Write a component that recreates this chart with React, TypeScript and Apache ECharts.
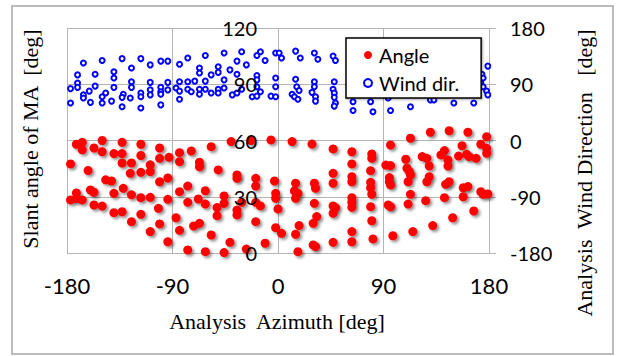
import React, { useEffect, useRef } from 'react';
import * as echarts from 'echarts';

// Analysis azimuth [deg] vs slant angle of MA [deg] (left axis)
const angleData: [number, number][] = [
  [-172, 58], [-167, 59], [-167, 55], [-157, 56], [-150, 60], [-150, 54], [-140, 53], [-133, 59], [-133, 53],
  [-117, 58], [-117, 52], [-101, 56], [-101, 50.5], [-93, 51], [-177, 47.5], [-162, 44], [-133, 48], [-125, 48],
  [-126, 42.5], [-117, 43], [-109, 47], [-109, 43.4], [-101, 38], [-94, 40], [-147, 39], [-142, 38.4], [-132, 34.5],
  [-160, 33.6], [-157, 32.4], [-140, 31.8], [-125, 31], [-117, 29.5], [-109, 29.7], [-172, 32], [-177, 28.3],
  [-172, 29], [-167, 28.3], [-157, 25.6], [-150, 25], [-140, 21.5], [-133, 22], [-117, 20.6], [-125, 16.7],
  [-102, 23.8], [-101, 15.5], [-94, 28.6], [-109, 11.4], [-94, 6],
  [-84, 53.5], [-84, 48.7], [-74, 54.4], [-67, 48.4], [-67, 46], [-57, 56.7], [-51, 44.3], [-40, 59.4], [-23, 60],
  [-6, 60.3], [-35, 41.6], [-35, 39.8], [-19, 39.8], [-19, 35.7], [-3, 38.4], [-77, 35.7], [-84, 32.7], [-62, 33.2],
  [-77, 27], [-68, 28.8], [-62, 26.1], [-46, 30.4], [-46, 26.5], [-52, 24.2], [-52, 19.9], [-35, 22.9], [-35, 20.3],
  [-31, 27], [-19, 27], [-15, 25.1], [-2, 31.8], [-2, 29.2], [-87, 18.8], [-84, 12.1], [-72, 14.4], [-67, 15.8],
  [-57, 9.6], [-41, 5.7], [-19, 16.7], [-11, 5.2], [-2, 13.5], [-77, 1.6], [-62, 0.7], [-46, 0.2], [-27, 2.1],
  [12, 59.4], [29, 58.1], [47, 55.5], [63, 54], [63, 47.5], [80, 52.8], [80, 50.5], [79, 43.9], [92, 46.9],
  [47, 42.5], [47, 37.2], [63, 40.7], [63, 38], [79, 37.7], [79, 34.8], [80, 31.3], [15, 37.2], [14, 33.1],
  [17, 31.8], [15, 29.2], [31, 37.2], [32, 34.5], [0, 23.5], [31, 26.5], [47, 25.1], [49, 24.2], [47, 21.2],
  [63, 29.5], [63, 27], [63, 24.4], [79, 24.7], [80, 17.2], [94, 25.6], [33, 19.4], [30, 15.8], [18, 14.6],
  [15, 10], [3, 10.5], [63, 11.4], [63, 6], [81, 7.5], [47, 5.7], [30, 4.3], [32, 3.4], [17, 0.7],
  [96, 57.6], [113, 61.2], [130, 64.4], [146, 65.2], [162, 64.4], [178, 62], [173, 58], [178, 55.8], [178, 53.2],
  [157, 57.2], [142, 54.6], [139, 52.3], [145, 49.6], [145, 46.4], [154, 51.7], [161, 52.6], [163, 51.4],
  [169, 50.5], [123, 51.4], [127, 50.5], [129, 46.4], [109, 50], [96, 46.6], [110, 45.2], [112, 43.4], [113, 41.6],
  [111, 38], [95, 40.2], [95, 38], [96, 36.3], [129, 40.7], [127, 38], [143, 36.6], [146, 38], [158, 34.8],
  [162, 35.4], [173, 32.7], [175, 31.3], [179, 31.5], [113, 31.3], [96, 24.7], [111, 26.1], [126, 27.9],
  [142, 29.5], [158, 30], [167, 22.4], [149, 18.8], [132, 14.6], [115, 11.4], [98, 9.2],
];

// Analysis azimuth [deg] vs analysis wind direction [deg] (right axis)
const windData: [number, number][] = [
  [-166, 124], [-150, 128], [-133, 131], [-117, 131], [-109, 121], [-100, 127], [-94, 127], [-171, 105],
  [-156, 106], [-140, 110], [-140, 100], [-125, 116], [-171, 92], [-177, 83], [-171, 85], [-156, 87], [-140, 85],
  [-125, 94], [-125, 85], [-109, 93], [-100, 85], [-94, 93], [-161, 79], [-166, 73], [-166, 68], [-147, 76],
  [-150, 70], [-132, 74], [-133, 69], [-117, 76], [-117, 70], [-109, 81], [-109, 73], [-100, 78], [-100, 74],
  [-94, 81], [-177, 60], [-160, 61], [-150, 60], [-142, 63], [-126, 68], [-133, 54], [-117, 52], [-100, 57],
  [-84, 122], [-77, 132], [-62, 136], [-46, 140], [-31, 142], [-18, 136], [-15, 142], [-11, 128], [-2, 140],
  [1, 140], [-35, 127], [-27, 121], [-67, 116], [-67, 108], [-51, 118], [-51, 109], [-57, 105], [-41, 113],
  [-35, 106], [-18, 104], [-18, 97], [-2, 100], [-84, 94], [-77, 94], [-71, 95], [-62, 95], [-46, 97], [-87, 84],
  [-84, 79], [-77, 82], [-74, 78], [-67, 82], [-67, 74], [-62, 82], [-57, 76], [-51, 82], [-51, 76], [-46, 84],
  [-39, 73], [-35, 76], [-31, 82], [-22, 70], [-18, 71], [-15, 78], [-18, 86], [-6, 71], [-2, 70], [-2, 86],
  [-84, 66],
  [3, 132], [15, 143], [19, 132], [31, 140], [34, 130], [47, 135], [49, 128], [15, 98], [16, 86], [18, 80],
  [12, 74], [14, 70], [17, 66], [31, 94], [31, 86], [29, 77], [32, 70], [32, 63], [48, 94], [47, 82], [48, 76],
  [48, 69], [49, 60], [48, 55], [64, 62], [64, 48], [79, 62], [81, 46],
  [94, 68], [96, 48], [113, 54], [130, 65], [133, 65], [150, 60], [167, 60], [179, 119], [174, 106], [175, 100],
  [173, 92], [175, 86], [178, 79], [179, 73],
];

const seriesNames = ['Angle', 'Wind dir.'];
const axisTitles = {
  x: 'Analysis  Azimuth [deg]',
  left: 'Slant angle of MA  [deg]',
  right: 'Analysis  Wind Direction   [deg]',
};

const GRID = '#b4b4b4';
const SANS = 'Lato, "Open Sans", sans-serif';
const SERIF = '"Liberation Serif", "DejaVu Serif", serif';

export default function App() {
  const ref = useRef<HTMLDivElement>(null);
  useEffect(() => {
    if (!ref.current) return;
    const chart = echarts.init(ref.current, null, { renderer: 'svg' });
    chart.setOption({
      animation: false,
      backgroundColor: '#ffffff',
      grid: { left: 67, right: 128, top: 28, bottom: 103, containLabel: false },
      xAxis: {
        type: 'value', min: -180, max: 180, interval: 90,
        axisLine: { show: false, onZero: false },
        axisTick: { show: false },
        axisLabel: { fontFamily: SANS, fontSize: 22, color: '#000', margin: 21 },
        splitLine: { show: true, lineStyle: { color: GRID, width: 1 } },
      },
      yAxis: [
        {
          type: 'value', min: 0, max: 120, interval: 30, position: 'left', offset: -210, z: 5,
          axisLine: { show: false, onZero: false },
          axisTick: { show: false },
          splitLine: { show: false },
          axisLabel: { fontFamily: SANS, fontSize: 20, color: '#000', margin: 20 },
        },
        {
          type: 'value', min: -180, max: 180, interval: 90, position: 'right',
          axisLine: { show: false, onZero: false },
          axisTick: { show: true, length: 7, lineStyle: { color: GRID } },
          splitLine: { show: true, lineStyle: { color: GRID, width: 1 } },
          axisLabel: { fontFamily: SANS, fontSize: 20, color: '#000', margin: 21 },
        },
      ],
      legend: {
        orient: 'vertical', left: 346, top: 38,
        data: seriesNames,
        backgroundColor: '#fff', borderColor: '#000', borderWidth: 1.5,
        shadowBlur: 2, shadowOffsetX: 1, shadowOffsetY: 1, shadowColor: 'rgba(0,0,0,0.35)',
        padding: [7, 22, 5, 17], itemGap: 8, itemWidth: 12, itemHeight: 8,
        textStyle: { fontFamily: SANS, fontSize: 20, color: '#000', lineHeight: 20 },
        z: 10,
      },
      series: [
        {
          name: seriesNames[0], type: 'scatter', yAxisIndex: 0, data: angleData,
          symbol: 'circle', symbolSize: 9, clip: false,
          itemStyle: {
            color: '#ff0000', opacity: 1,
            shadowBlur: 3, shadowColor: 'rgba(0,0,0,0.45)', shadowOffsetX: 2, shadowOffsetY: 2,
          },
        },
        {
          name: seriesNames[1], type: 'scatter', yAxisIndex: 1, data: windData,
          symbol: 'circle', symbolSize: 5, clip: false,
          itemStyle: { color: '#ffffff', borderColor: '#0000ff', borderWidth: 2, opacity: 1 },
        },
      ],
      graphic: [
        {
          type: 'rect', silent: true, z: 0,
          shape: { x: 12, y: 6, width: 601, height: 348 },
          style: { fill: 'none', stroke: '#a6a6a6', lineWidth: 1.5 },
        },
        {
          type: 'text', x: 30, y: 139, rotation: Math.PI / 2,
          style: { text: axisTitles.left, fontFamily: SERIF, fontSize: 22, fill: '#000', align: 'center', verticalAlign: 'middle' },
        },
        {
          type: 'text', x: 277, y: 321,
          style: { text: axisTitles.x, fontFamily: SERIF, fontSize: 22, fill: '#000', align: 'center', verticalAlign: 'middle' },
        },
        {
          type: 'text', x: 584, y: 173, rotation: Math.PI / 2,
          style: { text: axisTitles.right, fontFamily: SERIF, fontSize: 22, fill: '#000', align: 'center', verticalAlign: 'middle' },
        },
      ],
    });
    return () => chart.dispose();
  }, []);
  return <div ref={ref} style={{ position: 'absolute', left: 0, top: 0, width: 617, height: 356 }} />;
}
